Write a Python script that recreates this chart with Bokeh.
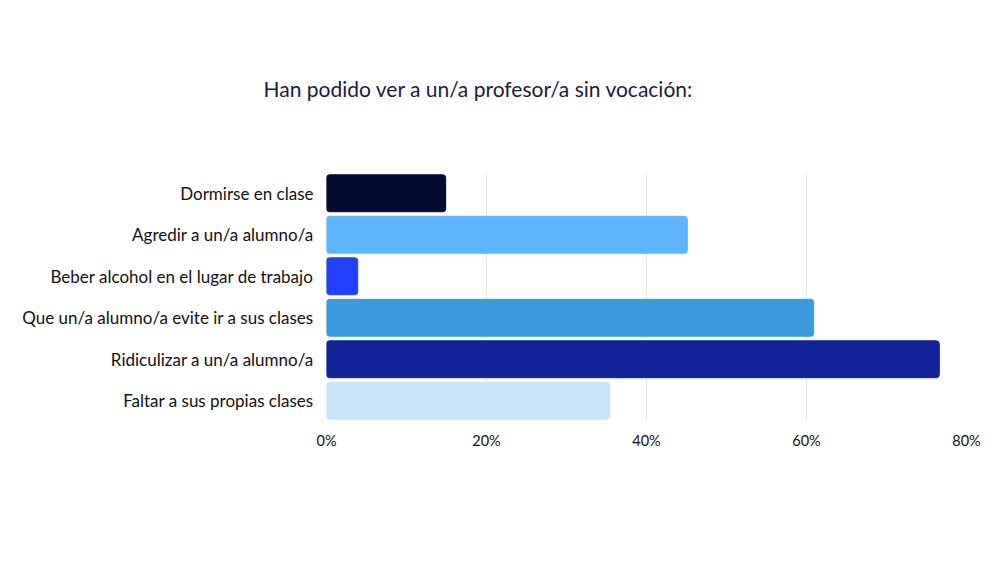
from bokeh.plotting import figure
from bokeh.models import FactorRange, Range1d, NumeralTickFormatter, ColumnDataSource
from bokeh.embed import file_html
from bokeh.resources import INLINE

categories = [
    "Dormirse en clase",
    "Agredir a un/a alumno/a",
    "Beber alcohol en el lugar de trabajo",
    "Que un/a alumno/a evite ir a sus clases",
    "Ridiculizar a un/a alumno/a",
    "Faltar a sus propias clases",
]
values = [0.149, 0.451, 0.039, 0.609, 0.766, 0.354]
colors = ["#040B30", "#5DB4FA", "#2440FF", "#3A9ADC", "#12239A", "#C9E5FC"]
tick_values = [0, 0.2, 0.4, 0.6, 0.8]
title_text = "Han podido ver a un/a profesor/a sin vocación:"

src = ColumnDataSource(dict(cat=categories, val=values, color=colors))

W, H = 984, 547
p = figure(
    width=W, height=H,
    y_range=FactorRange(*list(reversed(categories)), range_padding=0),
    x_range=Range1d(0, 0.8),
    output_backend="svg", toolbar_location=None,
    min_border_left=326, min_border_right=18,
    min_border_top=172, min_border_bottom=126,
)
p.hbar(y="cat", right="val", left=0, height=0.89, fill_color="color",
       line_color="color", line_width=1, border_radius=3, source=src)

p.outline_line_color = None
p.background_fill_color = "white"
p.border_fill_color = "white"
p.ygrid.grid_line_color = None
p.xgrid.grid_line_color = "#e6e6e6"
p.xgrid.grid_line_width = 1
p.xaxis.ticker = tick_values
p.xaxis.formatter = NumeralTickFormatter(format="0%")

for ax in (p.xaxis[0], p.yaxis[0]):
    ax.axis_line_color = None
    ax.major_tick_line_color = None
    ax.minor_tick_line_color = None
    ax.major_label_text_font = "Lato"
    ax.major_label_text_color = "#111111"
p.yaxis.major_label_text_font_size = "17px"
p.xaxis.major_label_text_font_size = "14.5px"
p.xaxis.major_label_standoff = 4
p.yaxis.major_label_standoff = 7

p.title.text = title_text
p.title.align = "left"
p.title.offset = -63
p.title.standoff = 144
p.title.text_font = "Lato"
p.title.text_font_size = "21px"
p.title.text_font_style = "normal"
p.title.text_color = "#1C1C3C"

open("out.html", "w").write(file_html(p, INLINE))
